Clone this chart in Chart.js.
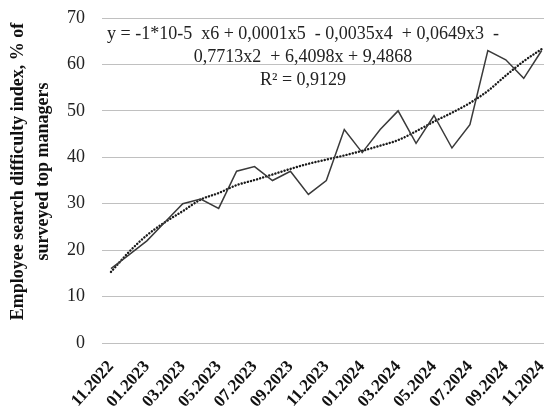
<!DOCTYPE html>
<html>
<head>
<meta charset="utf-8">
<script src="https://cdn.jsdelivr.net/npm/chart.js@4"></script>
<style>
  html, body { margin: 0; padding: 0; background: #fff; overflow: hidden; }
  #wrap { position: relative; width: 571px; height: 420px; }
</style>
</head>
<body>
<div id="wrap"><canvas id="indexChart"></canvas></div>
<script>
const months = ["11.2022", "12.2022", "01.2023", "02.2023", "03.2023", "04.2023", "05.2023",
    "06.2023", "07.2023", "08.2023", "09.2023", "10.2023", "11.2023", "12.2023",
    "01.2024", "02.2024", "03.2024", "04.2024", "05.2024", "06.2024", "07.2024",
    "08.2024", "09.2024", "10.2024", "11.2024"];
const indexValues = [16, 19, 22, 26, 30, 31, 29, 37, 38, 35, 37, 32, 35,
    46, 41, 46, 50, 43, 49, 42, 47, 63, 61, 57, 63];
// dotted polynomial trend
const trendValues = [15.3, 19.6, 23.2, 26.0, 28.4, 30.9, 32.3, 34.0, 35.1, 36.3, 37.5, 38.6, 39.5,
    40.4, 41.4, 42.5, 43.7, 45.6, 47.7, 49.6, 51.7, 54.3, 57.6, 60.7, 63.3];
const yTicks = [0, 10, 20, 30, 40, 50, 60, 70];
const equationLines = ["y = -1*10-5  x6 + 0,0001x5  - 0,0035x4  + 0,0649x3  -",
    "0,7713x2  + 6,4098x + 9,4868", "R\u00b2 = 0,9129"];

const serif = "'Liberation Serif', 'Times New Roman', serif";

// equation label, placed like the Excel trendline label
const equationPlugin = {
    id: "equation",
    afterDatasetsDraw(chart) {
        const c = chart.ctx;
        c.save();
        c.font = "18px " + serif;
        c.fillStyle = "#222";
        c.textAlign = "center";
        c.textBaseline = "middle";
        equationLines.forEach((line, i) => c.fillText(line, 303, 34 + i * 23));
        c.restore();
    }
};

const ctx = document.getElementById("indexChart").getContext("2d");
new Chart(ctx, {
    type: "line",
    data: {
        labels: months,
        datasets: [{
            data: indexValues,
            borderColor: "#3a3a3a",
            borderWidth: 1.5,
            pointRadius: 0,
            tension: 0
        }, {
            data: trendValues,
            borderColor: "#1a1a1a",
            borderWidth: 2.4,
            borderDash: [0.1, 3.1],
            borderCapStyle: "round",
            pointRadius: 0,
            tension: 0.4,
            cubicInterpolationMode: "monotone"
        }]
    },
    options: {
        responsive: true,
        maintainAspectRatio: false,
        animation: false,
        layout: { padding: { left: 0, right: 8, top: 18, bottom: 0 } },
        plugins: { legend: { display: false }, tooltip: { enabled: false } },
        scales: {
            x: {
                offset: true,
                afterFit: axis => { axis.height = 77; },
                grid: { display: false, drawTicks: false },
                border: { display: false },
                ticks: {
                    autoSkip: false,
                    maxRotation: 48,
                    minRotation: 48,
                    padding: 14,
                    color: "#111",
                    font: { family: serif, size: 17, weight: "bold" },
                    callback: function (value, index) {
                        return index % 2 === 0 ? months[index] : "";
                    }
                }
            },
            y: {
                min: yTicks[0],
                max: yTicks[yTicks.length - 1],
                afterBuildTicks: axis => { axis.ticks = yTicks.map(v => ({ value: v })); },
                afterFit: axis => {
                    axis.width = 102;
                    axis.paddingTop = 0;
                    axis.paddingBottom = 0;
                },
                grid: { color: "#c0c0c0", lineWidth: 1, drawTicks: false },
                border: { display: false },
                ticks: {
                    padding: 17,
                    color: "#222",
                    font: { family: serif, size: 18 }
                },
                title: {
                    display: true,
                    text: ["    Employee search difficulty index, % of", "    surveyed top managers"],
                    color: "#111",
                    font: { family: serif, size: 18, weight: "bold", lineHeight: 1.39 },
                    padding: { top: 5.5, bottom: 4 }
                }
            }
        }
    },
    plugins: [equationPlugin]
});
</script>
</body>
</html>
